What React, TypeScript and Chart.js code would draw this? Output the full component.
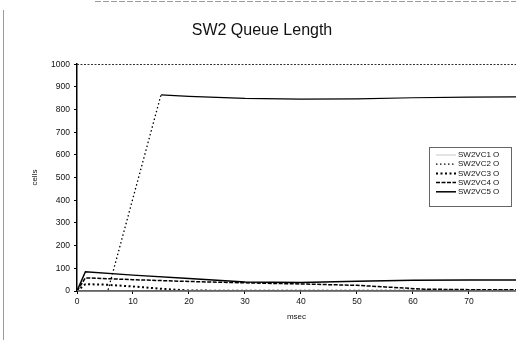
import { useEffect, useRef } from "react";
import { Chart, registerables } from "chart.js";

Chart.register(...registerables);

const chartTitle = "SW2 Queue Length";
const xTitle = "msec";
const yTitle = "cells";
const seriesNames = ["SW2VC1 O", "SW2VC2 O", "SW2VC3 O", "SW2VC4 O", "SW2VC5 O"];

const vc1Msec = [0, 10, 20, 30, 40, 50, 60, 70, 80];
const vc1Cells = [0, 0, 0, 0, 0, 0, 0, 0, 0];

const vc2Msec = [0, 2, 5.5, 15, 20, 30, 40, 50, 60, 70, 80];
const vc2Cells = [0, 2, 0, 865, 858, 849, 846, 847, 852, 855, 856];

const vc3Msec = [0, 1.5, 5, 10, 15, 20, 30, 40, 50, 60, 70, 80];
const vc3Cells = [0, 30, 28, 20, 10, 2, 1, 1, 1, 1, 1, 1];

const vc4Msec = [0, 1.5, 10, 20, 30, 40, 50, 55, 62, 70, 80];
const vc4Cells = [0, 58, 50, 42, 36, 31, 25, 18, 8, 6, 5];

const vc5Msec = [0, 1.5, 10, 20, 30, 40, 50, 60, 70, 80];
const vc5Cells = [0, 85, 70, 55, 40, 38, 43, 47, 48, 48];

const xMin = 0;
const xMax = 78.4;
const xStep = 10;
const yMin = 0;
const yMax = 1000;
const yStep = 100;

const FONT = "'Liberation Sans', Arial, Helvetica, sans-serif";

const pairs = (xs: number[], ys: number[]) => xs.map((x, i) => ({ x, y: ys[i] }));

const styles = [
  { color: "#c8c8c8", dash: [] as number[], width: 1 },
  { color: "#000000", dash: [1.5, 2.5], width: 1.3 },
  { color: "#000000", dash: [2, 2.5], width: 2 },
  { color: "#000000", dash: [4, 1.5], width: 1.5 },
  { color: "#000000", dash: [] as number[], width: 1.5 },
];

const framePlugin = {
  id: "frame",
  beforeDraw(chart: any) {
    const ctx = chart.ctx;
    ctx.save();
    ctx.fillStyle = "#ffffff";
    ctx.fillRect(0, 0, chart.width, chart.height);
    ctx.strokeStyle = "#9a9a9a";
    ctx.lineWidth = 1;
    ctx.beginPath();
    ctx.moveTo(3.5, 10);
    ctx.lineTo(3.5, chart.height);
    ctx.stroke();
    ctx.setLineDash([6, 2]);
    ctx.beginPath();
    ctx.moveTo(95, 1.5);
    ctx.lineTo(chart.width, 1.5);
    ctx.stroke();
    ctx.restore();
  },
  afterDraw(chart: any) {
    const ctx = chart.ctx;
    const { left, right, top } = chart.chartArea;
    ctx.save();
    ctx.strokeStyle = "#333333";
    ctx.lineWidth = 1.2;
    ctx.setLineDash([2, 1.5]);
    ctx.beginPath();
    ctx.moveTo(left, Math.round(top) + 0.5);
    ctx.lineTo(right, Math.round(top) + 0.5);
    ctx.stroke();
    ctx.setLineDash([]);

    const bx = 429.5;
    const by = 147.5;
    const bw = 82;
    const bh = 59;
    ctx.strokeStyle = "#666666";
    ctx.lineWidth = 1;
    ctx.fillStyle = "#ffffff";
    ctx.fillRect(bx, by, bw, bh);
    ctx.strokeRect(bx, by, bw, bh);
    ctx.font = `8px ${FONT}`;
    ctx.textBaseline = "middle";
    ctx.textAlign = "left";
    chart.data.datasets.forEach((ds: any, i: number) => {
      const y = 155 + i * 9.2;
      const st = styles[i];
      ctx.strokeStyle = st.color;
      ctx.lineWidth = st.width;
      ctx.setLineDash(st.dash);
      ctx.beginPath();
      ctx.moveTo(436, y);
      ctx.lineTo(456, y);
      ctx.stroke();
      ctx.setLineDash([]);
      ctx.fillStyle = "#111111";
      ctx.fillText(ds.label, 458, y);
    });
    ctx.restore();
  },
};

export default function App() {
  const ref = useRef<HTMLCanvasElement | null>(null);

  useEffect(() => {
    document.body.style.margin = "0";
    const canvas = ref.current;
    if (!canvas) return;
    const series = [
      pairs(vc1Msec, vc1Cells),
      pairs(vc2Msec, vc2Cells),
      pairs(vc3Msec, vc3Cells),
      pairs(vc4Msec, vc4Cells),
      pairs(vc5Msec, vc5Cells),
    ];
    const chart = new Chart(canvas, {
      type: "line",
      data: {
        datasets: series.map((data, i) => ({
          label: seriesNames[i],
          data,
          borderColor: styles[i].color,
          borderWidth: styles[i].width,
          borderDash: styles[i].dash,
          segment:
            i === 1
              ? {
                  borderDash: (c: any) => (c.p0.parsed.y > 500 ? [] : styles[1].dash),
                  borderWidth: (c: any) => (c.p0.parsed.y > 500 ? 1.2 : styles[1].width),
                }
              : undefined,
          pointRadius: 0,
          fill: false,
          tension: 0,
        })),
      },
      options: {
        animation: false,
        responsive: false,
        maintainAspectRatio: false,
        layout: { padding: { left: 8, right: 0, top: 0, bottom: 0 } },
        plugins: {
          legend: { display: false },
          tooltip: { enabled: false },
          title: {
            display: true,
            text: chartTitle,
            color: "#111111",
            font: { family: FONT, size: 16, weight: "normal" },
            padding: { top: 21, bottom: 24 },
          },
        },
        scales: {
          x: {
            type: "linear",
            min: xMin,
            max: xMax,
            afterFit(scale: any) {
              scale.height = 49;
            },
            ticks: {
              stepSize: xStep,
              includeBounds: false,
              color: "#111111",
              font: { family: FONT, size: 8.5 },
              padding: 3,
              maxRotation: 0,
              callback: (v: any) => String(v),
            },
            grid: { display: true, drawOnChartArea: false, color: "#000000", tickLength: 3 },
            border: { display: true, color: "#000000", width: 1.5 },
            title: {
              display: true,
              text: xTitle,
              color: "#111111",
              font: { family: FONT, size: 8 },
              padding: { top: 18, bottom: 18 },
            },
          },
          y: {
            type: "linear",
            min: yMin,
            max: yMax,
            afterFit(scale: any) {
              scale.width = 69;
            },
            ticks: {
              stepSize: yStep,
              color: "#111111",
              font: { family: FONT, size: 8.5 },
              padding: 4,
              callback: (v: any) => String(v),
            },
            grid: { display: true, drawOnChartArea: false, color: "#000000", tickLength: 3 },
            border: { display: true, color: "#000000", width: 1.5 },
            title: {
              display: true,
              text: yTitle,
              color: "#111111",
              font: { family: FONT, size: 8 },
              padding: { top: 22, bottom: 2 },
            },
          },
        },
      },
      plugins: [framePlugin],
    });
    return () => chart.destroy();
  }, []);

  return (
    <div style={{ position: "absolute", left: 0, top: 0, width: 516, height: 340, overflow: "hidden" }}>
      <canvas ref={ref} width={516} height={340} style={{ display: "block", width: 516, height: 340 }} />
    </div>
  );
}
